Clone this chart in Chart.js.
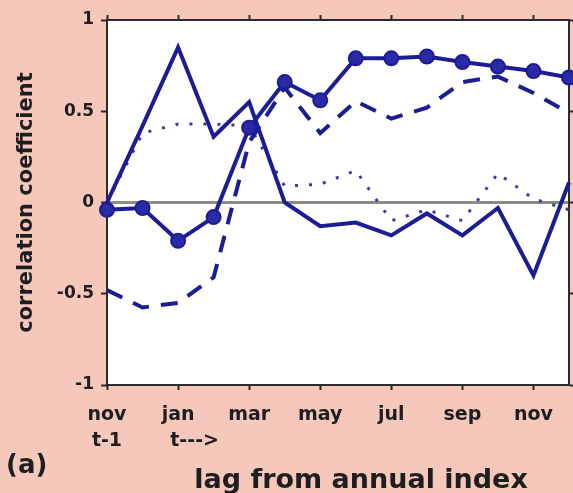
<!DOCTYPE html>
<html>
<head>
<meta charset="utf-8">
<script src="https://cdn.jsdelivr.net/npm/chart.js@4/dist/chart.umd.min.js"></script>
<style>
  html, body { margin: 0; padding: 0; background: #f5c8bb; }
  canvas { display: block; }
</style>
</head>
<body>
<canvas id="chart" width="573" height="493"></canvas>
<script>
// Months of lag, from November of year t-1 through December of year t
const months = ['nov', 'dec', 'jan', 'feb', 'mar', 'apr', 'may', 'jun', 'jul', 'aug', 'sep', 'oct', 'nov', 'dec'];
// Tick labels shown every second month
const xTickLabels = [['nov', 't-1'], '', ['jan', '     t--->'], '', 'mar', '', 'may', '', 'jul', '', 'sep', '', 'nov', ''];
const yTickValues = [-1, -0.5, 0, 0.5, 1];

// Correlation coefficients for each lag
const markedSeries = [-0.04, -0.03, -0.21, -0.08, 0.41, 0.66, 0.56, 0.79, 0.79, 0.80, 0.77, 0.745, 0.72, 0.685];
const solidSeries  = [0.00, 0.42, 0.85, 0.36, 0.55, 0.00, -0.13, -0.11, -0.18, -0.06, -0.18, -0.03, -0.40, 0.11];
const dashedSeries = [-0.48, -0.575, -0.55, -0.41, 0.33, 0.63, 0.38, 0.555, 0.46, 0.52, 0.66, 0.69, 0.60, 0.49];
const dottedSeries = [0.00, 0.38, 0.43, 0.43, 0.42, 0.09, 0.10, 0.175, -0.10, -0.04, -0.10, 0.16, 0.02, -0.04];

const INK = '#1c1c94';
const FRAME = '#2b2b2b';
const PAGE = '#f5c8bb';
const TEXT = '#1e1e1e';
const FONT = 'DejaVu Sans';

// Pink page with a white plotting area
const backdrop = {
  id: 'backdrop',
  beforeDraw(chart) {
    const { ctx, chartArea: a } = chart;
    ctx.save();
    ctx.fillStyle = PAGE;
    ctx.fillRect(0, 0, chart.width, chart.height);
    ctx.fillStyle = '#ffffff';
    ctx.fillRect(a.left, a.top, a.right - a.left, a.bottom - a.top);
    ctx.restore();
  }
};

// Panel letter and the horizontal axis caption
const captions = {
  id: 'captions',
  afterDraw(chart) {
    const { ctx, chartArea: a } = chart;
    ctx.save();
    ctx.fillStyle = TEXT;
    ctx.font = `bold 27px "${FONT}"`;
    ctx.textAlign = 'center';
    ctx.textBaseline = 'alphabetic';
    ctx.fillText('lag from annual index', (a.left + a.right) / 2 + 23, a.bottom + 103);
    ctx.font = `bold 26px "${FONT}"`;
    ctx.textAlign = 'left';
    ctx.textBaseline = 'middle';
    ctx.fillText('(a)', 6, a.bottom + 81);
    ctx.restore();
  }
};

const evenTickColor = (c) => (c.index % 2 === 0 ? FRAME : 'rgba(0,0,0,0)');

// Fixed band sizes around the plotting area; no extra side padding for labels
const fixHeight = (h) => (s) => { s.height = h; s.paddingLeft = 0; s.paddingRight = 0; };

new Chart(document.getElementById('chart'), {
  type: 'line',
  data: {
    labels: months,
    datasets: [
      {
        data: markedSeries,
        borderColor: INK,
        borderWidth: 4,
        pointRadius: 7,
        pointBorderWidth: 2,
        pointBackgroundColor: '#2a2aa6',
        pointBorderColor: INK,
        tension: 0,
        xAxisID: 'x', yAxisID: 'y'
      },
      {
        data: solidSeries,
        borderColor: INK,
        borderWidth: 4,
        pointRadius: 0,
        tension: 0,
        xAxisID: 'x', yAxisID: 'y'
      },
      {
        data: dashedSeries,
        borderColor: INK,
        borderWidth: 4,
        borderDash: [17, 12],
        pointRadius: 0,
        tension: 0,
        xAxisID: 'x', yAxisID: 'y'
      },
      {
        data: dottedSeries,
        borderColor: '#3a3aa8',
        borderWidth: 3,
        borderDash: [3, 11],
        pointRadius: 0,
        tension: 0,
        xAxisID: 'x', yAxisID: 'y'
      }
    ]
  },
  options: {
    responsive: false,
    animation: false,
    events: [],
    layout: { padding: 0, autoPadding: false },
    plugins: { legend: { display: false }, tooltip: { enabled: false } },
    scales: {
      x: {
        type: 'category',
        position: 'bottom',
        offset: false,
        grid: { drawOnChartArea: false, tickLength: 5, tickWidth: 2, tickColor: evenTickColor },
        border: { display: true, color: FRAME, width: 2 },
        ticks: {
          autoSkip: false,
          maxRotation: 0,
          padding: 12,
          color: TEXT,
          font: { family: FONT, weight: 'bold', size: 19, lineHeight: 1.37 },
          callback: (v, i) => xTickLabels[i]
        },
        afterFit: fixHeight(108)
      },
      xTop: {
        type: 'category',
        position: 'top',
        offset: false,
        grid: { drawOnChartArea: false, tickLength: 5, tickWidth: 2, tickColor: evenTickColor },
        border: { display: true, color: FRAME, width: 2 },
        ticks: { display: false, autoSkip: false },
        afterFit: fixHeight(20)
      },
      y: {
        type: 'linear',
        position: 'left',
        min: -1,
        max: 1,
        afterBuildTicks: (s) => { s.ticks = yTickValues.map((v) => ({ value: v })); },
        grid: {
          color: (c) => (c.tick && c.tick.value === 0 ? '#8c8c86' : 'rgba(0,0,0,0)'),
          lineWidth: 3,
          tickLength: 6,
          tickWidth: 2,
          tickColor: FRAME
        },
        border: { display: true, color: FRAME, width: 2 },
        ticks: {
          padding: 7,
          color: TEXT,
          font: { family: FONT, weight: 'bold', size: 17 },
          callback: (v) => String(v)
        },
        title: {
          display: true,
          text: 'correlation coefficient',
          color: TEXT,
          font: { family: FONT, weight: 'bold', size: 21 },
          padding: { top: 14, bottom: 0 }
        },
        afterFit: (s) => { s.width = 107; }
      },
      yRight: {
        type: 'linear',
        position: 'right',
        min: -1,
        max: 1,
        afterBuildTicks: (s) => { s.ticks = yTickValues.map((v) => ({ value: v })); },
        grid: { drawOnChartArea: false, tickLength: 4, tickWidth: 2, tickColor: FRAME },
        border: { display: true, color: FRAME, width: 2 },
        ticks: { display: false },
        afterFit: (s) => { s.width = 4; }
      }
    }
  },
  plugins: [backdrop, captions]
});
</script>
</body>
</html>
